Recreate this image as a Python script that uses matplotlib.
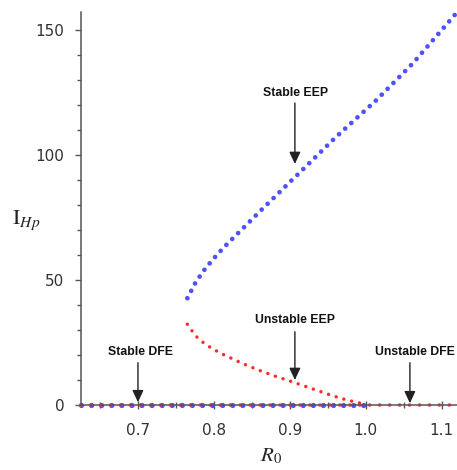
import matplotlib
matplotlib.use('Agg')
import matplotlib.pyplot as plt
from matplotlib.ticker import MultipleLocator

# stable endemic equilibrium (upper branch)
eep_stable_r0 = [0.765, 0.776, 0.787, 0.798, 0.809, 0.820, 0.841, 0.861, 0.881, 0.900, 0.910, 0.960, 1.014, 1.062, 1.119]
eep_stable_i = [42.7, 49.1, 53.9, 58.0, 61.7, 65.2, 71.5, 77.6, 83.5, 89.2, 92.1, 107.0, 122.0, 136.7, 156.7]

# unstable endemic equilibrium (lower branch)
eep_unstable_r0 = [0.765, 0.776, 0.787, 0.798, 0.809, 0.820, 0.840, 0.861, 0.881, 0.900, 0.919, 0.938, 0.956, 0.975, 0.992, 1.0]
eep_unstable_i = [32.3, 27.6, 24.7, 22.5, 20.7, 19.1, 16.3, 13.7, 11.5, 9.6, 7.6, 5.6, 3.7, 2.0, 0.8, 0.0]

# disease free equilibrium
dfe_stable_r0 = [0.625, 1.0]
dfe_stable_i = [0.0, 0.0]
dfe_unstable_r0 = [0.625, 1.12]
dfe_unstable_i = [0.0, 0.0]

labels = ['Stable EEP', 'Unstable EEP', 'Stable DFE', 'Unstable DFE']
label_pos = [(0.9075, 124.9), (0.906, 34.0), (0.703, 21.3), (1.0647, 21.3)]
arrow_x = [0.9066, 0.9066, 0.700, 1.058]
arrow_from = [120.8, 29.3, 16.9, 16.9]
arrow_to = [96.4, 10.0, 1.1, 0.7]

blue = '#5050ff'
red = '#ff2a2a'

fig = plt.figure(figsize=(4.57, 4.70), dpi=100)
ax = fig.add_axes([0.1772, 0.1383, 0.8228, 0.8362])

ax.plot(eep_stable_r0, eep_stable_i, color=blue, lw=3.4, linestyle=(0, (0.01, 1.75)),
        dash_capstyle='round')
ax.plot(eep_unstable_r0, eep_unstable_i, color=red, lw=2.5, linestyle=(0, (0.01, 2.3)),
        dash_capstyle='round')
ax.plot(dfe_stable_r0, dfe_stable_i, color=blue, lw=3.8, linestyle=(0, (0.01, 1.9)),
        dash_capstyle='round', clip_on=False, zorder=3)
ax.plot(dfe_unstable_r0, dfe_unstable_i, color=red, lw=2.8, linestyle=(0, (0.01, 2.55)),
        dash_capstyle='round', clip_on=False, alpha=0.75, zorder=4)

for txt, (tx, ty), xa, y0, y1 in zip(labels, label_pos, arrow_x, arrow_from, arrow_to):
    ax.text(tx, ty, txt, ha='center', va='center', fontsize=8.8, fontweight='bold',
            family='Liberation Sans', color='#111')
    ax.annotate('', xy=(xa, y1), xytext=(xa, y0),
                arrowprops=dict(arrowstyle='-|>,head_length=0.6,head_width=0.28',
                                color='#222', lw=1.0, shrinkA=0, shrinkB=0,
                                mutation_scale=12))

ax.set_xlim(0.625, 1.12)
ax.set_ylim(0, 157.2)
ax.xaxis.set_major_locator(MultipleLocator(0.1))
ax.xaxis.set_minor_locator(MultipleLocator(0.05))
ax.yaxis.set_major_locator(MultipleLocator(50))
ax.yaxis.set_minor_locator(MultipleLocator(10))
ax.set_xticks([0.7, 0.8, 0.9, 1.0, 1.1])
ax.set_xticklabels(['0.7', '0.8', '0.9', '1.0', '1.1'])

for s in ['top', 'right']:
    ax.spines[s].set_visible(False)
for s in ['left', 'bottom']:
    ax.spines[s].set_color('#555')
    ax.spines[s].set_linewidth(1.1)
    ax.spines[s].set_zorder(5)

ax.tick_params(axis='y', which='major', direction='out', length=4, width=1, color='#555',
               labelsize=11, labelcolor='#333', pad=8)
ax.tick_params(axis='y', which='minor', direction='out', length=3, width=1, color='#555')
ax.tick_params(axis='x', which='major', direction='inout', length=6, width=1, color='#555',
               labelsize=11, labelcolor='#333', pad=10)
ax.tick_params(axis='x', which='minor', direction='inout', length=4, width=1, color='#555')

plt.rcParams['mathtext.fontset'] = 'stix'
fig.text(0.058, 0.532, r'$\mathrm{I}_{Hp}$', fontsize=16, ha='center', va='center', color='#222')
fig.text(0.592, 0.03, r'$R_{0}$', fontsize=15, ha='center', va='center', color='#222')

fig.savefig('out.png', dpi=100)
